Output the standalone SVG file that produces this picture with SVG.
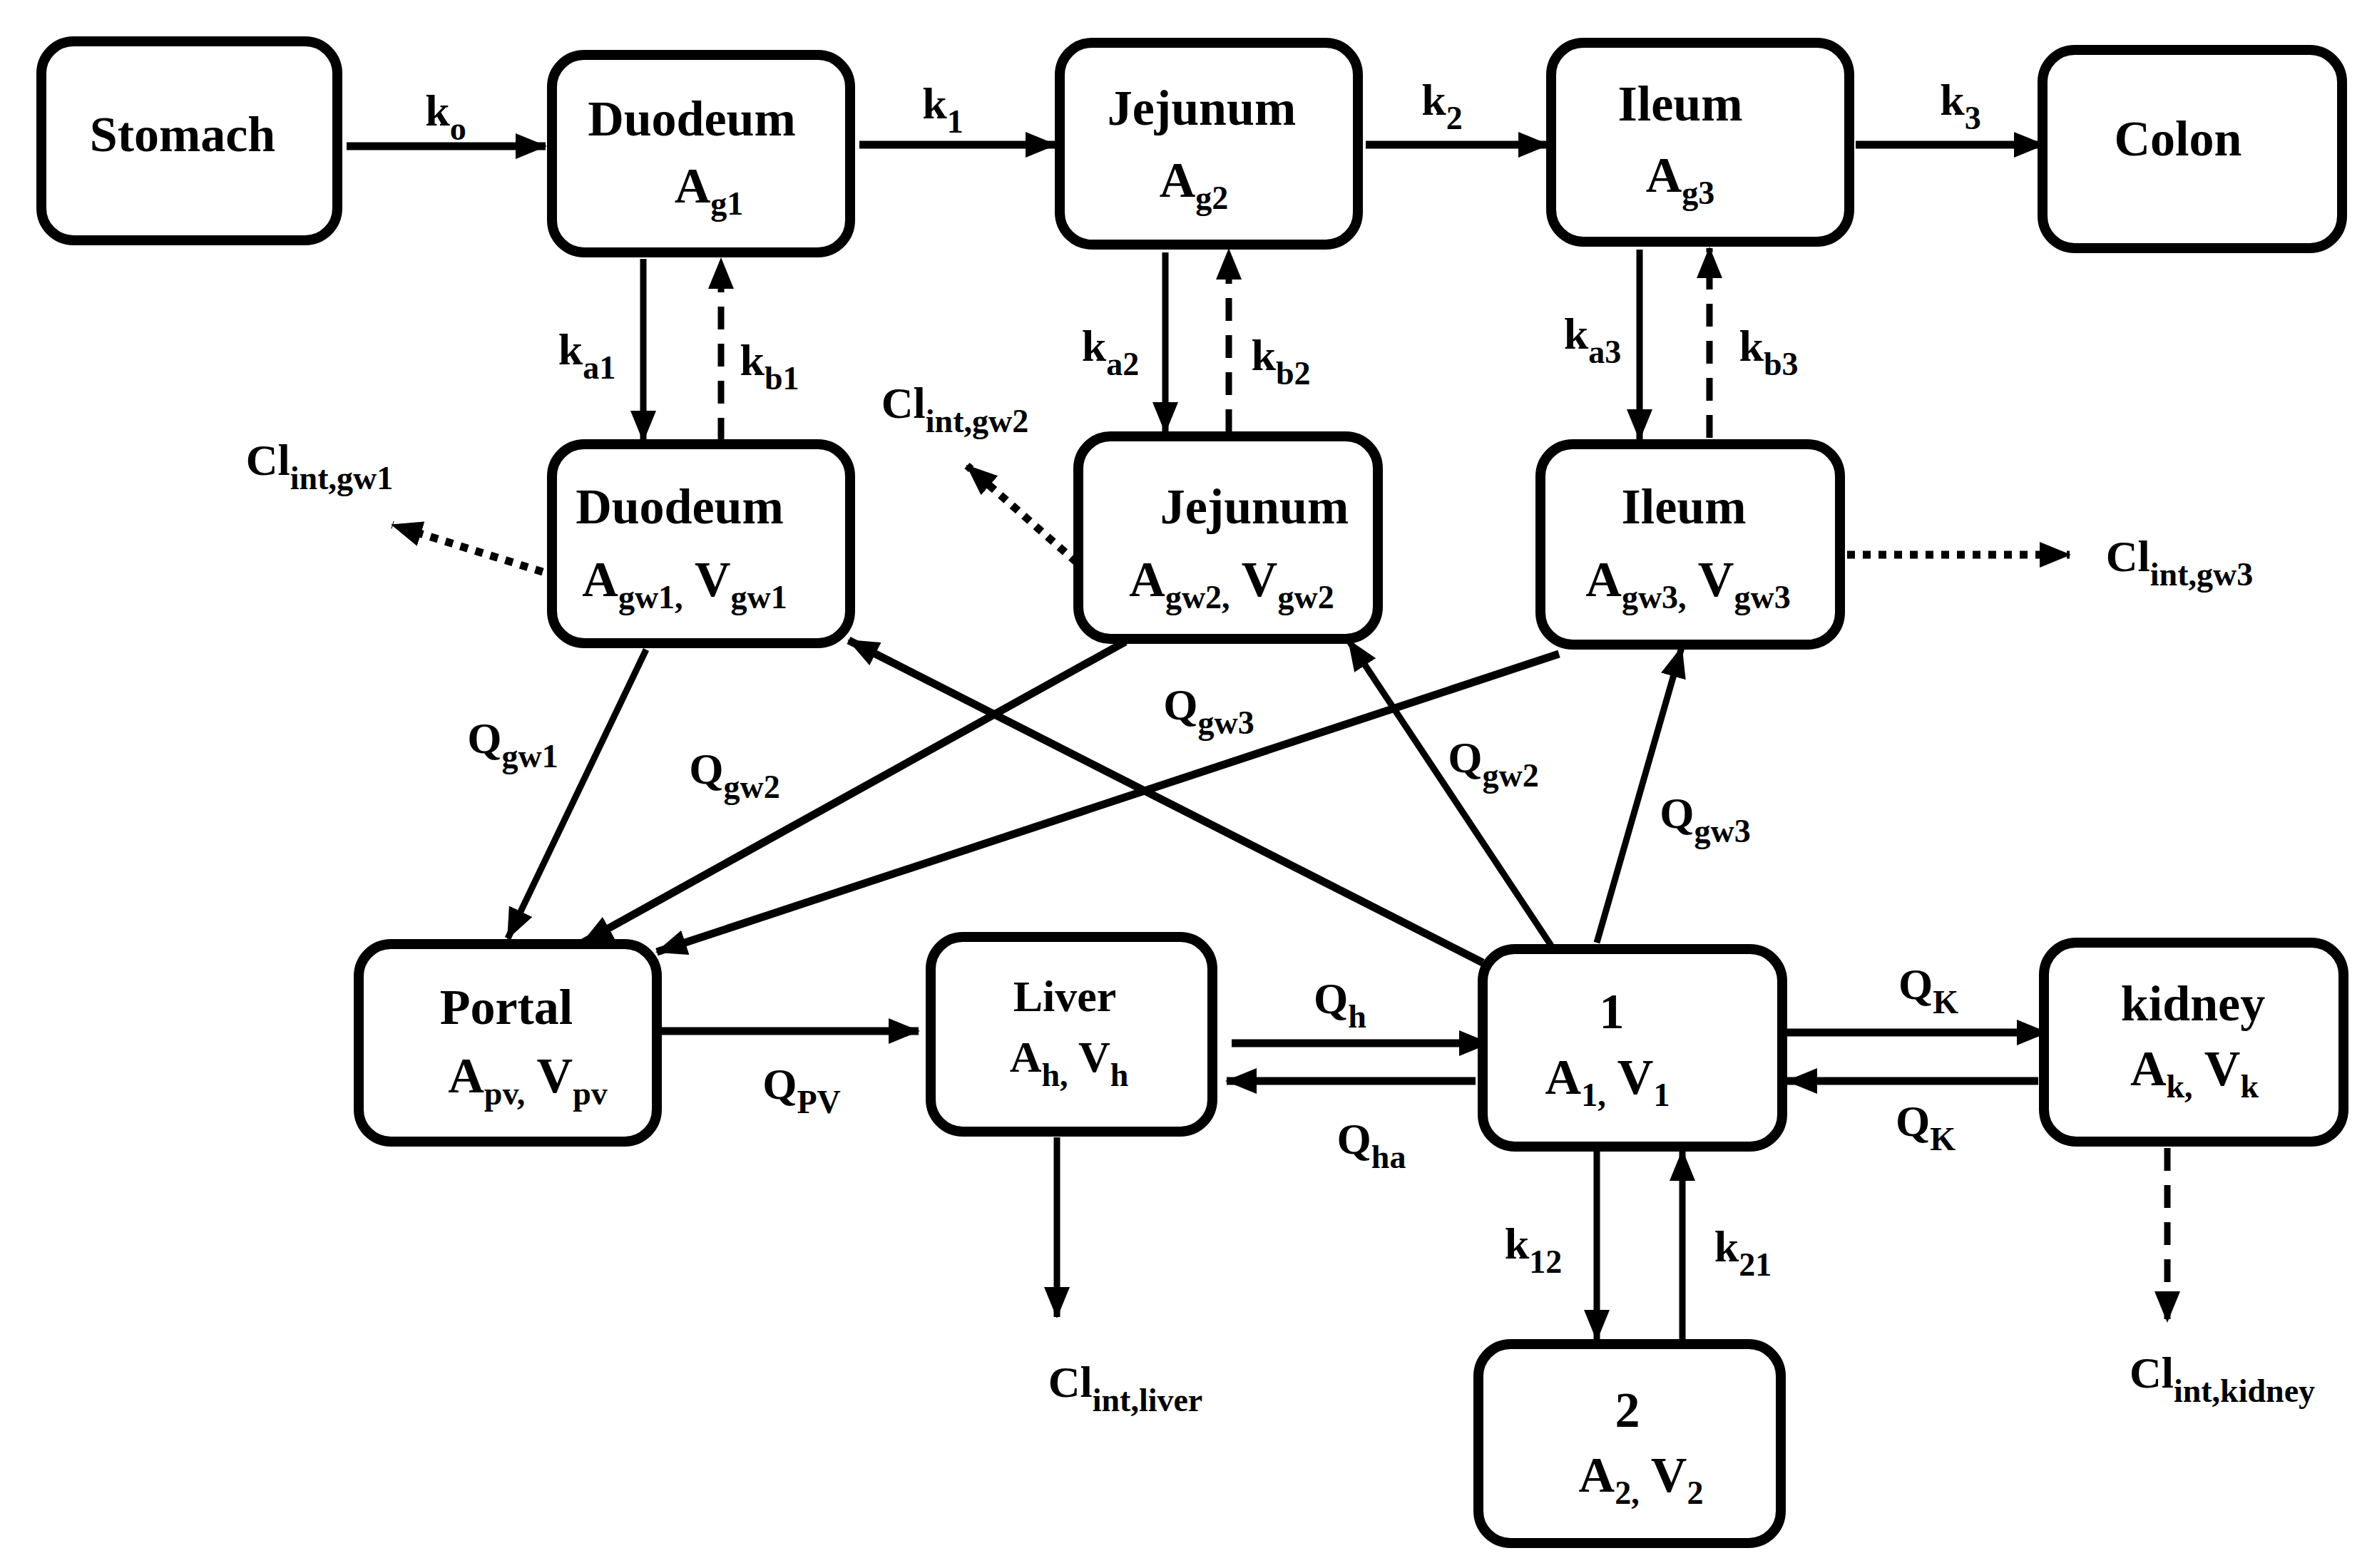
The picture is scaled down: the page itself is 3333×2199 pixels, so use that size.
<svg xmlns="http://www.w3.org/2000/svg" width="3333" height="2199" viewBox="0 0 3333 2199">
<style>
.box{fill:#fff;stroke:#000;stroke-width:14}
text{font-family:"Liberation Serif","Times New Roman",serif;font-weight:bold;fill:#000;text-anchor:middle;dominant-baseline:central}
.t{font-size:70px}
.s{font-size:62px}
.l{font-size:62px}
.sub{font-size:46px}
.c line{stroke:#000;stroke-width:9;marker-end:url(#ah)}
.c .thick{stroke-width:11}
.c .dash{stroke-dasharray:32 20}
.c .dot{stroke-dasharray:11 11;stroke-width:11}
</style>
<defs>
<marker id="ah" markerUnits="userSpaceOnUse" markerWidth="44" markerHeight="36" refX="42" refY="18" orient="auto"><path d="M0,0 L44,18 L0,36 Z" fill="#000"/></marker>
</defs>
<rect width="3333" height="2199" fill="#fff"/>
<g class="c" id="connectors">
<line class="thick" x1="486" y1="205" x2="765" y2="205"/>
<line class="thick" x1="1205" y1="203" x2="1480" y2="203"/>
<line class="thick" x1="1915" y1="203" x2="2171" y2="203"/>
<line class="thick" x1="2602" y1="203" x2="2866" y2="203"/>
<line x1="902" y1="363" x2="902" y2="618"/>
<line class="dash" x1="1011" y1="618" x2="1011" y2="363"/>
<line x1="1634" y1="354" x2="1634" y2="606"/>
<line class="dash" x1="1723" y1="606" x2="1723" y2="350"/>
<line x1="2299" y1="350" x2="2299" y2="616"/>
<line class="dash" x1="2397" y1="614" x2="2397" y2="348"/>
<line class="dot" x1="761" y1="802" x2="550" y2="736"/>
<line class="dot" x1="1510" y1="789" x2="1356" y2="653"/>
<line class="dot" x1="2590" y1="778" x2="2902" y2="778"/>
<line x1="906" y1="911" x2="712" y2="1316"/>
<line class="thick" x1="1578" y1="900" x2="817" y2="1322"/>
<line class="thick" x1="2186" y1="917" x2="921" y2="1335"/>
<line class="thick" x1="2079" y1="1350" x2="1190" y2="898"/>
<line x1="2175" y1="1326" x2="1891" y2="898"/>
<line x1="2239" y1="1322" x2="2358" y2="908"/>
<line class="thick" x1="928" y1="1446" x2="1288" y2="1446"/>
<line class="thick" x1="1727" y1="1463" x2="2088" y2="1463"/>
<line class="thick" x1="2069" y1="1516" x2="1720" y2="1516"/>
<line class="thick" x1="2506" y1="1448" x2="2870" y2="1448"/>
<line class="thick" x1="2858" y1="1516" x2="2506" y2="1516"/>
<line x1="2239" y1="1614" x2="2239" y2="1879"/>
<line x1="2359" y1="1879" x2="2359" y2="1614"/>
<line x1="1482" y1="1595" x2="1482" y2="1847"/>
<line class="dash" x1="3039" y1="1610" x2="3039" y2="1853"/>
</g>
<g id="labels">
<text class="l" x="625" y="155">k<tspan class="sub" baseline-shift="sub">o</tspan></text>
<text class="l" x="1322" y="145">k<tspan class="sub" baseline-shift="sub">1</tspan></text>
<text class="l" x="2022" y="140">k<tspan class="sub" baseline-shift="sub">2</tspan></text>
<text class="l" x="2749" y="140">k<tspan class="sub" baseline-shift="sub">3</tspan></text>
<text class="l" x="823" y="490">k<tspan class="sub" baseline-shift="sub">a1</tspan></text>
<text class="l" x="1079" y="505">k<tspan class="sub" baseline-shift="sub">b1</tspan></text>
<text class="l" x="1557" y="485">k<tspan class="sub" baseline-shift="sub">a2</tspan></text>
<text class="l" x="1796" y="498">k<tspan class="sub" baseline-shift="sub">b2</tspan></text>
<text class="l" x="2233" y="468">k<tspan class="sub" baseline-shift="sub">a3</tspan></text>
<text class="l" x="2480" y="485">k<tspan class="sub" baseline-shift="sub">b3</tspan></text>
<text class="l" x="448" y="645">Cl<tspan class="sub" baseline-shift="sub">int,gw1</tspan></text>
<text class="l" x="1339" y="565">Cl<tspan class="sub" baseline-shift="sub">int,gw2</tspan></text>
<text class="l" x="3056" y="780">Cl<tspan class="sub" baseline-shift="sub">int,gw3</tspan></text>
<text class="l" x="719" y="1035">Q<tspan class="sub" baseline-shift="sub">gw1</tspan></text>
<text class="l" x="1030" y="1078">Q<tspan class="sub" baseline-shift="sub">gw2</tspan></text>
<text class="l" x="1695" y="988">Q<tspan class="sub" baseline-shift="sub">gw3</tspan></text>
<text class="l" x="2094" y="1062">Q<tspan class="sub" baseline-shift="sub">gw2</tspan></text>
<text class="l" x="2391" y="1140">Q<tspan class="sub" baseline-shift="sub">gw3</tspan></text>
<text class="l" x="1124" y="1520">Q<tspan class="sub" baseline-shift="sub">PV</tspan></text>
<text class="l" x="1879" y="1400">Q<tspan class="sub" baseline-shift="sub">h</tspan></text>
<text class="l" x="1923" y="1597">Q<tspan class="sub" baseline-shift="sub">ha</tspan></text>
<text class="l" x="2704" y="1380">Q<tspan class="sub" baseline-shift="sub">K</tspan></text>
<text class="l" x="2700" y="1572">Q<tspan class="sub" baseline-shift="sub">K</tspan></text>
<text class="l" x="2150" y="1744">k<tspan class="sub" baseline-shift="sub">12</tspan></text>
<text class="l" x="2444" y="1748">k<tspan class="sub" baseline-shift="sub">21</tspan></text>
<text class="l" x="1578" y="1938">Cl<tspan class="sub" baseline-shift="sub">int,liver</tspan></text>
<text class="l" x="3116" y="1925">Cl<tspan class="sub" baseline-shift="sub">int,kidney</tspan></text>
</g>
<g id="stomach"><rect class="box" x="58" y="58" width="415" height="279" rx="45"/><text class="t" x="256" y="188">Stomach</text></g>
<g id="duodeum"><rect class="box" x="774" y="77" width="418" height="277" rx="45"/><text class="t" x="970" y="166">Duodeum</text><text class="t" x="994" y="260">A<tspan class="sub" baseline-shift="sub">g1</tspan></text></g>
<g id="jejunum"><rect class="box" x="1486" y="60" width="418" height="283" rx="45"/><text class="t" x="1685" y="151">Jejunum</text><text class="t" x="1674" y="252">A<tspan class="sub" baseline-shift="sub">g2</tspan></text></g>
<g id="ileum"><rect class="box" x="2175" y="60" width="418" height="279" rx="45"/><text class="t" x="2356" y="145">Ileum</text><text class="t" x="2356" y="245">A<tspan class="sub" baseline-shift="sub">g3</tspan></text></g>
<g id="colon"><rect class="box" x="2864" y="70" width="420" height="278" rx="45"/><text class="t" x="3054" y="194">Colon</text></g>
<g id="duodeum-wall"><rect class="box" x="774" y="623" width="418" height="279" rx="45"/><text class="t" x="953" y="710">Duodeum</text><text class="t" x="960" y="812">A<tspan class="sub" baseline-shift="sub">gw1,</tspan><tspan dy="-0"> </tspan>V<tspan class="sub" baseline-shift="sub">gw1</tspan></text></g>
<g id="jejunum-wall"><rect class="box" x="1512" y="612" width="420" height="284" rx="45"/><text class="t" x="1759" y="710">Jejunum</text><text class="t" x="1727" y="812">A<tspan class="sub" baseline-shift="sub">gw2,</tspan> V<tspan class="sub" baseline-shift="sub">gw2</tspan></text></g>
<g id="ileum-wall"><rect class="box" x="2160" y="623" width="420" height="281" rx="45"/><text class="t" x="2361" y="710">Ileum</text><text class="t" x="2367" y="812">A<tspan class="sub" baseline-shift="sub">gw3,</tspan> V<tspan class="sub" baseline-shift="sub">gw3</tspan></text></g>
<g id="portal"><rect class="box" x="503" y="1324" width="418" height="277" rx="45"/><text class="t" x="710" y="1412">Portal</text><text class="t" x="740" y="1508">A<tspan class="sub" baseline-shift="sub">pv,</tspan> V<tspan class="sub" baseline-shift="sub">pv</tspan></text></g>
<g id="liver"><rect class="box" x="1305" y="1314" width="395" height="273" rx="45"/><text class="s" x="1493" y="1397">Liver</text><text class="s" x="1499" y="1482">A<tspan class="sub" baseline-shift="sub">h,</tspan> V<tspan class="sub" baseline-shift="sub">h</tspan></text></g>
<g id="central"><rect class="box" x="2079" y="1331" width="420" height="277" rx="45"/><text class="t" x="2260" y="1418">1</text><text class="t" x="2254" y="1510">A<tspan class="sub" baseline-shift="sub">1,</tspan> V<tspan class="sub" baseline-shift="sub">1</tspan></text></g>
<g id="kidney"><rect class="box" x="2866" y="1322" width="420" height="279" rx="45"/><text class="t" x="3075" y="1407">kidney</text><text class="t" x="3077" y="1498">A<tspan class="sub" baseline-shift="sub">k,</tspan> V<tspan class="sub" baseline-shift="sub">k</tspan></text></g>
<g id="peripheral"><rect class="box" x="2073" y="1885" width="424" height="279" rx="45"/><text class="t" x="2282" y="1977">2</text><text class="t" x="2301" y="2068">A<tspan class="sub" baseline-shift="sub">2,</tspan> V<tspan class="sub" baseline-shift="sub">2</tspan></text></g>
</svg>
